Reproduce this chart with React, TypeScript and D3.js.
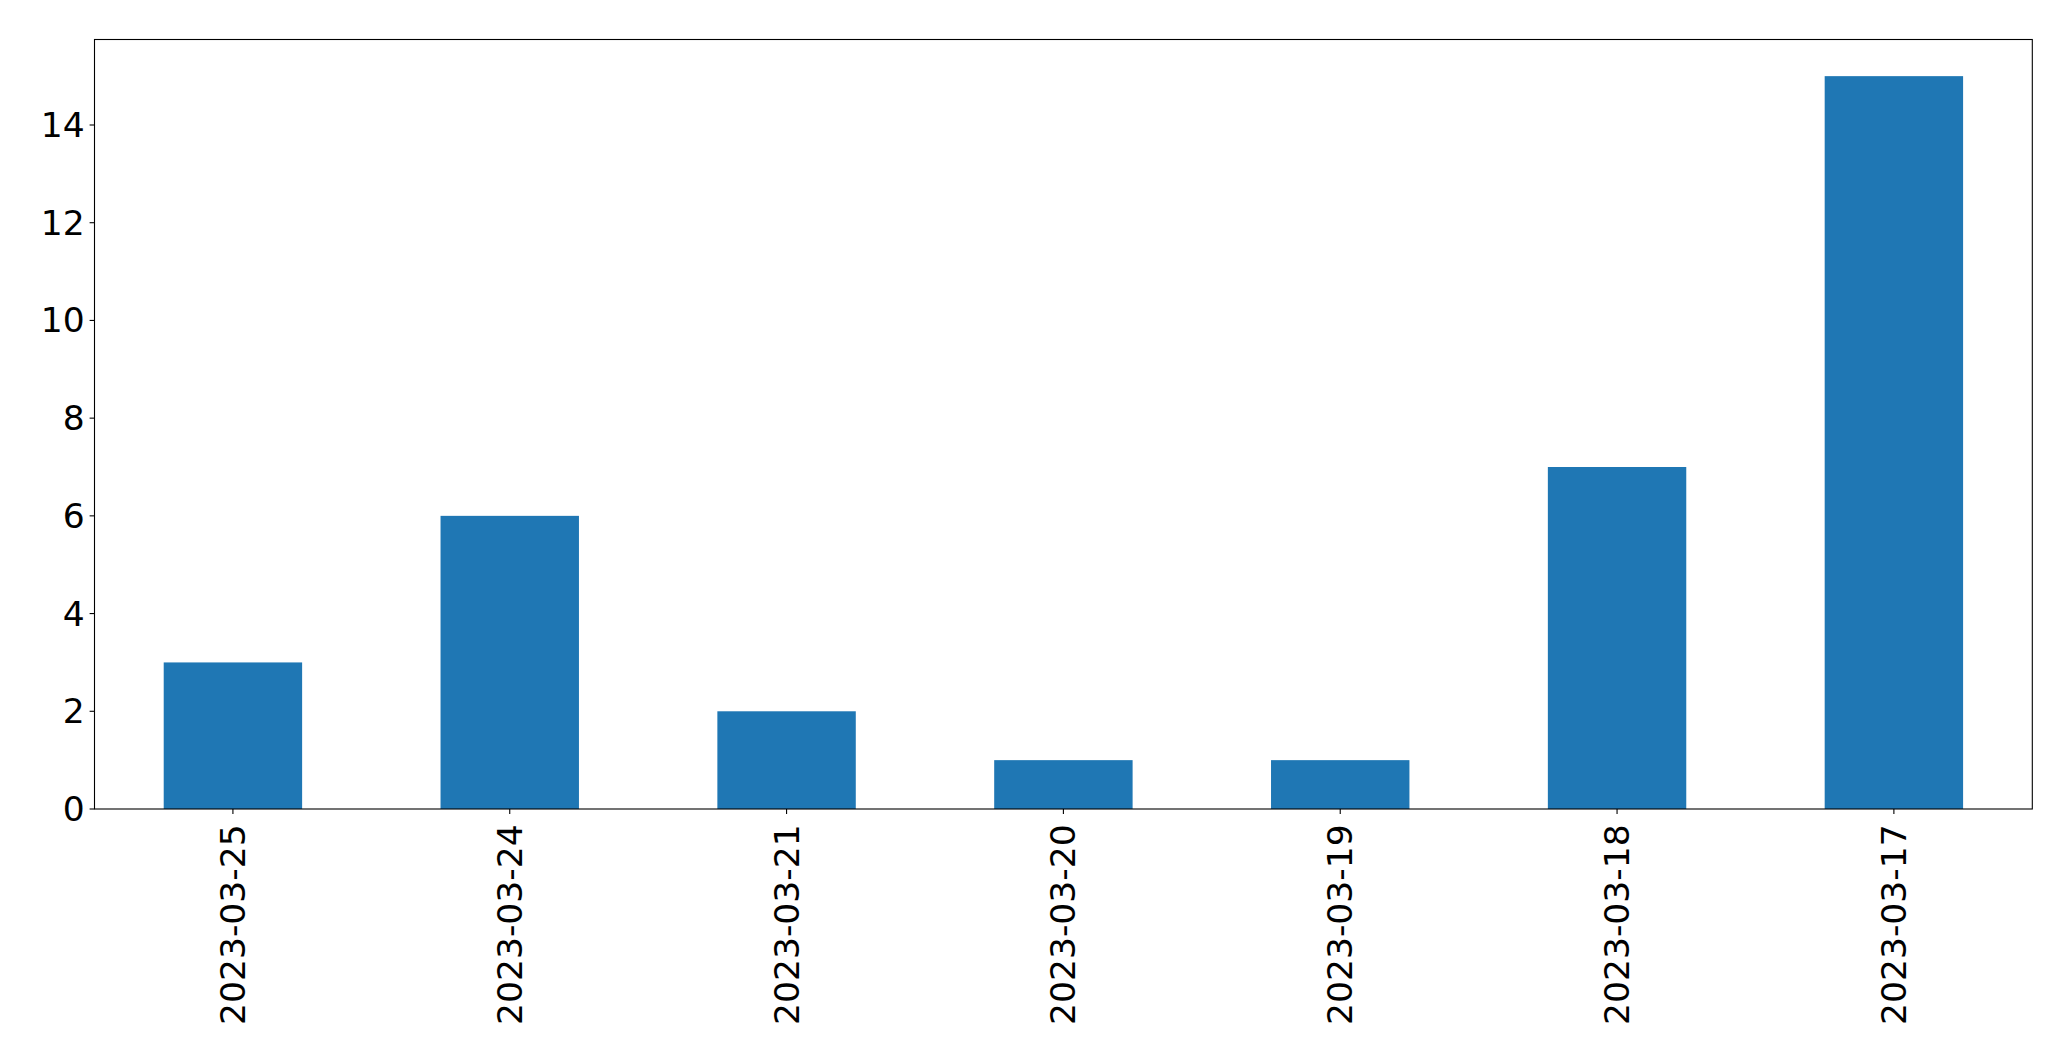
import React from "react";
import * as d3 from "d3";

const categories: string[] = ["2023-03-25", "2023-03-24", "2023-03-21", "2023-03-20", "2023-03-19", "2023-03-18", "2023-03-17"];
const values: number[] = [3, 6, 2, 1, 1, 7, 15];
const yTicks: number[] = [0, 2, 4, 6, 8, 10, 12, 14];

const W = 2071;
const H = 1061;
const left = 94.5;
const right = 2032.3;
const top = 39.5;
const bottom = 809;
const fontSize = 34.5;
const tickLen = 4.9;
const pad = 4.9;
const xPad = 10.5;

export default function App() {
  const x = d3.scaleLinear().domain([-0.5, categories.length - 0.5]).range([left, right]);
  const y = d3.scaleLinear().domain([0, d3.max(values)! * 1.05]).range([bottom, top]);
  const bw = x(0.25) - x(-0.25);
  return (
    <svg width={W} height={H} style={{ position: "absolute", left: 0, top: 0, background: "#fff" }}
      fontFamily="DejaVu Sans" fontSize={fontSize}>
      <rect x={0} y={0} width={W} height={H} fill="#fff" />
      {values.map((v, i) => (
        <rect key={i} x={x(i) - bw / 2} y={y(v)} width={bw} height={y(0) - y(v)} fill="#1f77b4" />
      ))}
      <rect x={left} y={top} width={right - left} height={bottom - top} fill="none" stroke="#000" strokeWidth={1.1} />
      {yTicks.map((t) => (
        <g key={t}>
          <line x1={left - tickLen} x2={left} y1={y(t)} y2={y(t)} stroke="#000" strokeWidth={1.1} />
          <text x={left - tickLen - pad} y={y(t)} textAnchor="end" dominantBaseline="central">{t}</text>
        </g>
      ))}
      {categories.map((c, i) => (
        <g key={c}>
          <line x1={x(i)} x2={x(i)} y1={bottom} y2={bottom + tickLen} stroke="#000" strokeWidth={1.1} />
          <text transform={`translate(${x(i)},${bottom + tickLen + xPad}) rotate(-90)`} textAnchor="end" dominantBaseline="central">{c}</text>
        </g>
      ))}
    </svg>
  );
}
